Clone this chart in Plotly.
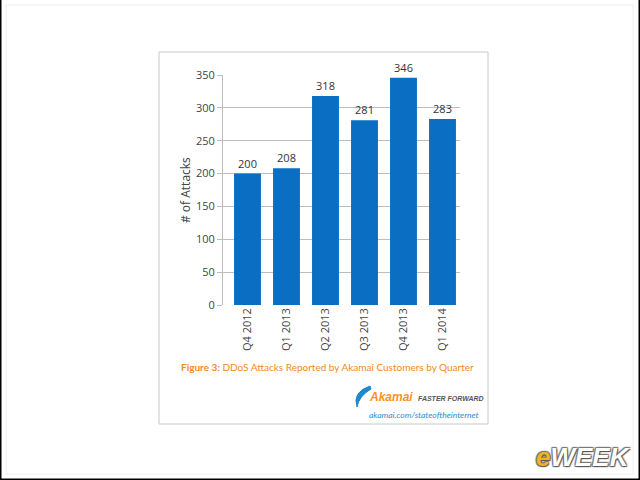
import plotly.graph_objects as go

quarters = ["Q4 2012", "Q1 2013", "Q2 2013", "Q3 2013", "Q4 2013", "Q1 2014"]
attacks = [200, 208, 318, 281, 346, 283]
y_ticks = [0, 50, 100, 150, 200, 250, 300, 350]

W, H = 640, 480
def px(x): return x / W
def py(y): return 1 - y / H

BLUE = "#0A6FC2"
ORANGE = "#F08A24"
FONT = "Open Sans, Noto Sans, sans-serif"
NARROW = "Lato, Roboto, sans-serif"

def ann(text, x, y, size, color, family=FONT, xanchor="center", **kw):
    return dict(text=text, x=px(x), y=py(y), xref="paper", yref="paper",
                xanchor=xanchor, yanchor="middle", showarrow=False,
                font=dict(size=size, color=color, family=family, **kw.pop("fontkw", {})), **kw)

fig = go.Figure(go.Bar(
    x=list(range(len(quarters))), y=attacks,
    marker=dict(color=BLUE, line=dict(width=0)),
    text=[str(v) for v in attacks], textposition="outside",
    textfont=dict(size=11, color="#333333", family=FONT),
    cliponaxis=False,
))

fig.update_layout(
    template="none",
    width=W, height=H, margin=dict(l=0, r=0, t=0, b=0, pad=0, autoexpand=False),
    paper_bgcolor="white", plot_bgcolor="white",
    showlegend=False, bargap=0.31,
    font=dict(family=FONT, color="#444444"),
    xaxis=dict(
        domain=[px(223), px(460)], automargin=False,
        range=[-0.628, 5.449],
        tickmode="array", tickvals=list(range(len(quarters))), ticktext=quarters,
        tickangle=-90, tickfont=dict(size=11, color="#444444"),
        showgrid=False, zeroline=False, showline=False, ticks="",
    ),
    yaxis=dict(
        domain=[py(305), py(75)], automargin=False,
        range=[0, 350],
        tickmode="array", tickvals=y_ticks,
        tickfont=dict(size=11, color="#444444"),
        showgrid=True, gridcolor="#BDBDBD", gridwidth=1,
        zeroline=False, showline=True, linecolor="#BDBDBD", linewidth=1,
        ticks="outside", ticklen=5, tickcolor="#BDBDBD",
    ),
    shapes=[
        dict(type="rect", xref="paper", yref="paper",
             x0=px(159), x1=px(488), y0=py(424), y1=py(52),
             line=dict(color="#C8C8C8", width=1), fillcolor="rgba(0,0,0,0)", layer="below"),
        dict(type="rect", xref="paper", yref="paper",
             x0=px(6), x1=px(633), y0=py(474), y1=py(5),
             line=dict(color="#EEEEEE", width=1), fillcolor="rgba(0,0,0,0)", layer="below"),
        dict(type="line", xref="paper", yref="paper", x0=px(0.5), x1=px(0.5), y0=0, y1=1,
             line=dict(color="black", width=2)),
        dict(type="line", xref="paper", yref="paper", x0=px(639.5), x1=px(639.5), y0=0, y1=1,
             line=dict(color="black", width=2)),
        dict(type="line", xref="paper", yref="paper", x0=0, x1=1, y0=py(479.5), y1=py(479.5),
             line=dict(color="black", width=2)),
        dict(type="path", xref="paper", yref="paper",
             path=f"M {px(370)} {py(386)} Q {px(352)} {py(392)} {px(357)} {py(407)} "
                  f"Q {px(359)} {py(396)} {px(371)} {py(389)} Z",
             fillcolor="#1E88D0", line=dict(color="#1E88D0", width=1)),
    ],
    annotations=[
        dict(ann("# of Attacks", 186, 190, 12, "#444444"), textangle=-90),
        ann("<b>Figure 3:</b> DDoS Attacks Reported by Akamai Customers by Quarter",
            179, 367, 10, ORANGE, family=NARROW, xanchor="left"),
        ann("<b><i>Akamai</i></b>", 367, 397, 12, "#F7931E",
            family="Liberation Sans, sans-serif", xanchor="left"),
        ann("<b><i>FASTER FORWARD</i></b>", 416, 398, 7, "#555555",
            family="Liberation Sans, sans-serif", xanchor="left"),
        ann("<i>akamai.com/stateoftheinternet</i>", 481, 415, 8.5, "#2C8AD0",
            family=NARROW, xanchor="right"),
        ann("<b><i><span style='color:#F2B31E'>e</span>WEEK</i></b>", 633, 457, 26, "white",
            family="Liberation Sans, sans-serif", xanchor="right",
            fontkw=dict(shadow="1px 1px 1px #555, -1px -1px 1px #777, 1px -1px 1px #777, -1px 1px 1px #777")),
    ],
)

fig.write_html("out.html")
